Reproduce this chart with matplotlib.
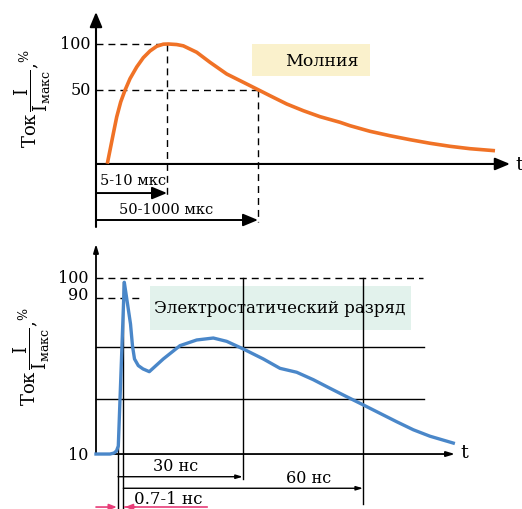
import matplotlib
matplotlib.use("Agg")
import matplotlib.pyplot as plt
from matplotlib.patches import Rectangle

plt.rcParams['font.family'] = ['DejaVu Serif']
plt.rcParams['mathtext.fontset'] = 'dejavuserif'

# ---------------- data: lightning (top) ----------------
light_t = [11.3, 14, 17.3, 20.7, 24.7, 29, 34, 40.7, 47.3, 54, 60.7, 67.3, 72.3,
           80.7, 87.3, 100.7, 114, 130.7, 147.3, 160.7, 174, 190.7, 207.3, 224,
           244, 254, 274, 294, 314, 334, 354, 374, 399]
light_i = [-30.1, -15.5, 2.5, 20.7, 37.0, 49.7, 62.3, 75.0, 85.1, 92.4, 97.5, 99.8,
           100.0, 99.4, 98.0, 91.0, 80.1, 67.4, 58.4, 51.1, 43.8, 34.8, 27.5, 21.0,
           14.9, 11.2, 5.1, 0.3, -4.0, -7.9, -11.2, -13.8, -16.0]
light_ticks = [50, 100]
light_ticklabels = ["50", "100"]
light_peak_t = 71
light_half_t = 162
light_base = -30.4
light_label = "Молния"
light_arrow_labels = ["5-10 мкс", "50-1000 мкс"]

# ---------------- data: ESD (bottom) ----------------
esd_t = [-5.5, -2, -1, -0.375, 0.075, 1.575, 3.125, 3.625, 4.125, 5.075, 6.25,
         7.825, 11.325, 15.5, 19.675, 23.825, 27.175, 31.325, 36.325, 40.5, 44.675,
         48.825, 53.0, 57.175, 61.325, 65.5, 69.675, 73.825, 78.0, 83.825]
esd_i = [10.0, 10.0, 10.5, 11.6, 14.1, 97.8, 76.5, 65.2, 58.6, 55.2, 53.5,
         52.1, 58.6, 65.4, 68.3, 69.3, 67.6, 63.7, 58.6, 53.8, 51.8,
         48.0, 43.6, 39.3, 35.1, 30.8, 26.5, 22.4, 19.1, 15.6]
esd_ticks = [10, 90, 100]
esd_ticklabels = ["10", "90", "100"]
esd_grid = [38.1, 64.6]
esd_t30 = 31.2
esd_t60 = 61.25
esd_trise = 1.33
esd_label = "Электростатический разряд"
esd_arrow_labels = ["30 нс", "60 нс", "0.7-1 нс"]

ylab = r"Ток$\,\dfrac{\mathrm{I}}{\mathrm{I}_{\mathrm{макс}}}$,$^{\%}$"

W, H = 522, 510
fig = plt.figure(figsize=(W / 100, H / 100), dpi=100)
fig.patch.set_facecolor('white')

ORANGE = '#F07226'
BLUE = '#4A87C9'
PINK = '#E83C78'
dash = (0, (5, 3.6))


def arrow(ax, x0, y0, x1, y1, color='black', lw=1.4, hl=0.6, hw=0.25, ms=15):
    ax.annotate('', xy=(x1, y1), xytext=(x0, y0),
                arrowprops=dict(arrowstyle=f'-|>,head_length={hl},head_width={hw}',
                                color=color, lw=lw, shrinkA=0, shrinkB=0,
                                mutation_scale=ms))

# ---------------- top axes ----------------
ax1 = fig.add_axes([0, 0, 1, 1])
ax1.set_xlim(-96, 426)
ax1.set_ylim(-405.4, 148.9)
ax1.axis('off')

arrow(ax1, 0, -98.9, 0, 134.8, lw=1.5)
arrow(ax1, 0, light_base, 414, light_base, lw=1.5)
ax1.text(423, light_base, "t", fontsize=14, ha='center', va='center')

ax1.plot([0, light_peak_t], [100, 100], color='black', lw=1.0, ls=dash)
ax1.plot([0, light_half_t], [50, 50], color='black', lw=1.0, ls=dash)
ax1.plot([light_peak_t, light_peak_t], [100, -65], color='black', lw=1.0, ls=dash)
ax1.plot([light_half_t, light_half_t], [50, -93], color='black', lw=1.0, ls=dash)

ax1.plot(light_t, light_i, color=ORANGE, lw=2.6, solid_capstyle='butt',
         solid_joinstyle='round', zorder=3)

for v, s in zip(light_ticks, light_ticklabels):
    ax1.text(-5, v, s, fontsize=11.5, ha='right', va='center')

arrow(ax1, 0, -62, light_peak_t, -62, lw=1.4)
arrow(ax1, 0, -91.3, light_half_t, -91.3, lw=1.4)
ax1.text(37, -47.8, light_arrow_labels[0], fontsize=10.5, ha='center', va='center')
ax1.text(70, -79, light_arrow_labels[1], fontsize=10.5, ha='center', va='center')

ax1.add_patch(Rectangle((156, 65.2), 118, 34.8, facecolor='#FAF1CC', edgecolor='none'))
ax1.text(226, 82.6, light_label, fontsize=12.5, ha='center', va='center')

ax1.text(-63.5, 41.3, ylab, fontsize=13, rotation=90, ha='center', va='center')

# ---------------- bottom axes ----------------
ax2 = fig.add_axes([0, 0, 1, 1])
ax2.set_xlim(-29.5, 101)
ax2.set_ylim(-18.1, 242.6)
ax2.axis('off')
ax2.patch.set_alpha(0)

arrow(ax2, -5.5, 10, -5.5, 117.4, lw=1.3, hl=0.5, hw=0.15, ms=10)
arrow(ax2, -5.5, 10, 84.25, 10, lw=1.3, hl=0.5, hw=0.15, ms=10)
ax2.text(86.5, 11, "t", fontsize=14, ha='center', va='center')

ax2.plot([-5.5, 76.25], [100, 100], color='black', lw=1.0, ls=dash)
ax2.plot([-5.5, 5.5], [90, 90], color='black', lw=1.0, ls=dash)
for g in esd_grid:
    ax2.plot([-5.5, 76.5], [g, g], color='black', lw=1.0)

ax2.plot([0, 0], [14.1, -18.1], color='black', lw=1.0)
ax2.plot([esd_trise, esd_trise], [98, -18.1], color='black', lw=1.0)
ax2.plot([esd_t30, esd_t30], [100, -2.8], color='black', lw=1.0)
ax2.plot([esd_t60, esd_t60], [100, -15.5], color='black', lw=1.0)

ax2.add_patch(Rectangle((8, 73.6), 65.25, 22.5, facecolor='#E2F2EC', edgecolor='none', zorder=1))
ax2.text(40.5, 84.7, esd_label, fontsize=12, ha='center', va='center', zorder=2)

ax2.plot(esd_t, esd_i, color=BLUE, lw=2.4, solid_joinstyle='round', zorder=3)

for v, s in zip(esd_ticks, esd_ticklabels):
    ax2.text(-7.3, v + (1.3 if v == 90 else 0), s, fontsize=11.5, ha='right', va='center')

arrow(ax2, 0, -1.6, esd_t30, -1.6, lw=1.0, hl=0.5, hw=0.15, ms=8)
arrow(ax2, esd_trise, -7.5, esd_t60, -7.5, lw=1.0, hl=0.5, hw=0.15, ms=8)
ax2.text(14.5, 3.9, esd_arrow_labels[0], fontsize=11.5, ha='center', va='center')
ax2.text(47.75, -2.2, esd_arrow_labels[1], fontsize=11.5, ha='center', va='center')

arrow(ax2, -5.5, -17.1, -0.3, -17.1, color=PINK, lw=1.2, hl=0.5, hw=0.2, ms=9)
arrow(ax2, 4.25, -17.1, 1.75, -17.1, color=PINK, lw=1.2, hl=0.5, hw=0.2, ms=9)
ax2.plot([1.75, 22.25], [-17.1, -17.1], color=PINK, lw=1.2)
ax2.text(12.5, -12.5, esd_arrow_labels[2], fontsize=12, ha='center', va='center')

ax2.text(-21.5, 60.1, ylab, fontsize=13, rotation=90, ha='center', va='center')

fig.savefig("out.png", dpi=100, facecolor='white')
